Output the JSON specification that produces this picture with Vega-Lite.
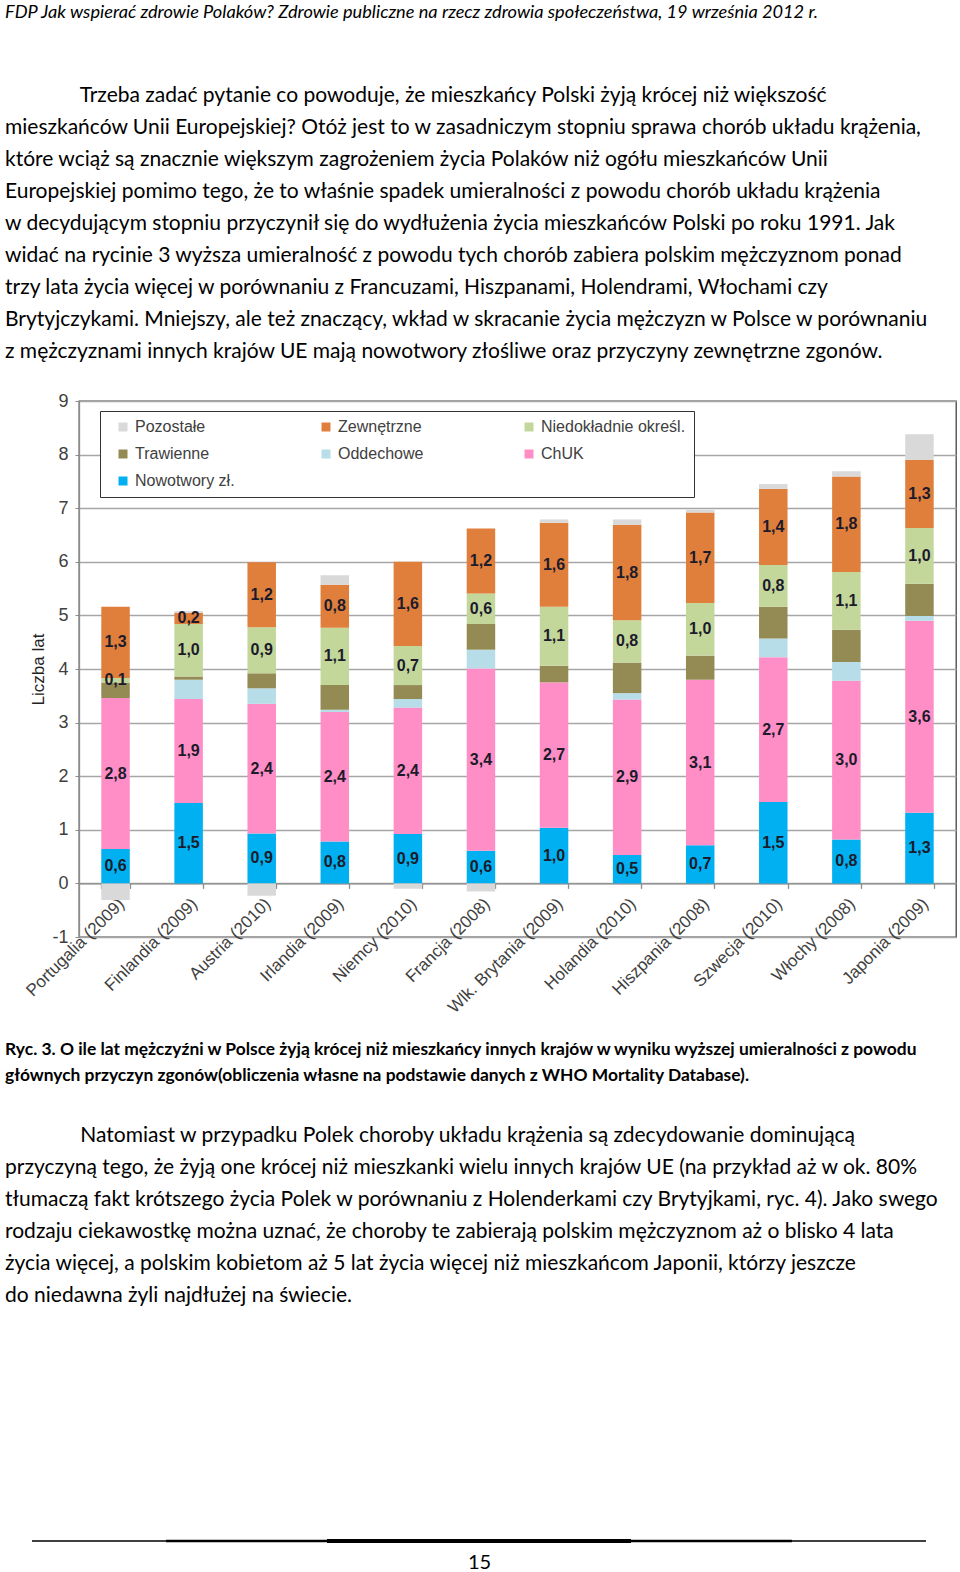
{
  "$schema": "https://vega.github.io/schema/vega-lite/v6.json",
  "background": "white",
  "padding": {"left": 4, "top": 2, "right": 0, "bottom": 0},
  "spacing": 23,
  "config": {
    "locale": {"number": {"decimal": ",", "thousands": " ", "grouping": [3], "currency": ["", " zł"], "minus": "-"}},
    "axis": {"labelFont": "Liberation Sans", "titleFont": "Liberation Sans"},
    "legend": {"labelFont": "Liberation Sans"}
  },
  "vconcat": [
    {
      "width": 877,
      "height": 536,
      "view": {"stroke": "#444", "strokeWidth": 1.3},
      "title": {
        "text": "FDP Jak wspierać zdrowie Polaków? Zdrowie publiczne na rzecz zdrowia społeczeństwa, 19 września 2012 r.",
        "subtitle": [
          "\u200b\u00a0\u00a0\u00a0\u00a0\u00a0\u00a0\u00a0\u00a0\u00a0\u00a0\u00a0\u00a0\u00a0\u00a0Trzeba zadać pytanie co powoduje, że mieszkańcy Polski żyją krócej niż większość",
          "mieszkańców Unii Europejskiej? Otóż jest to w zasadniczym stopniu sprawa chorób układu krążenia,",
          "które wciąż są znacznie większym zagrożeniem życia Polaków niż ogółu mieszkańców Unii",
          "Europejskiej pomimo tego, że to właśnie spadek umieralności z powodu chorób układu krążenia",
          "w decydującym stopniu przyczynił się do wydłużenia życia mieszkańców Polski po roku 1991. Jak",
          "widać na rycinie 3 wyższa umieralność z powodu tych chorób zabiera polskim mężczyznom ponad",
          "trzy lata życia więcej w porównaniu z Francuzami, Hiszpanami, Holendrami, Włochami czy",
          "Brytyjczykami. Mniejszy, ale też znaczący, wkład w skracanie życia mężczyzn w Polsce w porównaniu",
          "z mężczyznami innych krajów UE mają nowotwory złośliwe oraz przyczyny zewnętrzne zgonów."
        ],
        "anchor": "start",
        "frame": "group",
        "dx": -74,
        "offset": 29,
        "font": "Lato",
        "fontSize": 18.2,
        "fontStyle": "italic",
        "fontWeight": "normal",
        "color": "#000",
        "subtitleFont": "Lato",
        "subtitleFontSize": 21,
        "subtitleColor": "#000",
        "subtitleLineHeight": 32,
        "subtitlePadding": 63
      },
      "data": {"values": [
        {"country": "Portugalia (2009)", "cause": "Nowotwory zł.", "value": 0.64},
        {"country": "Portugalia (2009)", "cause": "ChUK", "value": 2.82},
        {"country": "Portugalia (2009)", "cause": "Oddechowe", "value": 0},
        {"country": "Portugalia (2009)", "cause": "Trawienne", "value": 0.29},
        {"country": "Portugalia (2009)", "cause": "Niedokładnie określ.", "value": 0.08},
        {"country": "Portugalia (2009)", "cause": "Zewnętrzne", "value": 1.33},
        {"country": "Portugalia (2009)", "cause": "Pozostałe", "value": -0.31},
        {"country": "Finlandia (2009)", "cause": "Nowotwory zł.", "value": 1.5},
        {"country": "Finlandia (2009)", "cause": "ChUK", "value": 1.94},
        {"country": "Finlandia (2009)", "cause": "Oddechowe", "value": 0.36},
        {"country": "Finlandia (2009)", "cause": "Trawienne", "value": 0.06},
        {"country": "Finlandia (2009)", "cause": "Niedokładnie określ.", "value": 0.98},
        {"country": "Finlandia (2009)", "cause": "Zewnętrzne", "value": 0.21},
        {"country": "Finlandia (2009)", "cause": "Pozostałe", "value": 0.03},
        {"country": "Austria (2010)", "cause": "Nowotwory zł.", "value": 0.93},
        {"country": "Austria (2010)", "cause": "ChUK", "value": 2.42},
        {"country": "Austria (2010)", "cause": "Oddechowe", "value": 0.29},
        {"country": "Austria (2010)", "cause": "Trawienne", "value": 0.28},
        {"country": "Austria (2010)", "cause": "Niedokładnie określ.", "value": 0.86},
        {"country": "Austria (2010)", "cause": "Zewnętrzne", "value": 1.21},
        {"country": "Austria (2010)", "cause": "Pozostałe", "value": -0.23},
        {"country": "Irlandia (2009)", "cause": "Nowotwory zł.", "value": 0.78},
        {"country": "Irlandia (2009)", "cause": "ChUK", "value": 2.42},
        {"country": "Irlandia (2009)", "cause": "Oddechowe", "value": 0.04},
        {"country": "Irlandia (2009)", "cause": "Trawienne", "value": 0.46},
        {"country": "Irlandia (2009)", "cause": "Niedokładnie określ.", "value": 1.07},
        {"country": "Irlandia (2009)", "cause": "Zewnętrzne", "value": 0.8},
        {"country": "Irlandia (2009)", "cause": "Pozostałe", "value": 0.18},
        {"country": "Niemcy (2010)", "cause": "Nowotwory zł.", "value": 0.92},
        {"country": "Niemcy (2010)", "cause": "ChUK", "value": 2.36},
        {"country": "Niemcy (2010)", "cause": "Oddechowe", "value": 0.16},
        {"country": "Niemcy (2010)", "cause": "Trawienne", "value": 0.26},
        {"country": "Niemcy (2010)", "cause": "Niedokładnie określ.", "value": 0.73},
        {"country": "Niemcy (2010)", "cause": "Zewnętrzne", "value": 1.57},
        {"country": "Niemcy (2010)", "cause": "Pozostałe", "value": -0.1},
        {"country": "Francja (2008)", "cause": "Nowotwory zł.", "value": 0.61},
        {"country": "Francja (2008)", "cause": "ChUK", "value": 3.4},
        {"country": "Francja (2008)", "cause": "Oddechowe", "value": 0.35},
        {"country": "Francja (2008)", "cause": "Trawienne", "value": 0.48},
        {"country": "Francja (2008)", "cause": "Niedokładnie określ.", "value": 0.57},
        {"country": "Francja (2008)", "cause": "Zewnętrzne", "value": 1.21},
        {"country": "Francja (2008)", "cause": "Pozostałe", "value": -0.15},
        {"country": "Wlk. Brytania (2009)", "cause": "Nowotwory zł.", "value": 1.04},
        {"country": "Wlk. Brytania (2009)", "cause": "ChUK", "value": 2.71},
        {"country": "Wlk. Brytania (2009)", "cause": "Oddechowe", "value": 0},
        {"country": "Wlk. Brytania (2009)", "cause": "Trawienne", "value": 0.31},
        {"country": "Wlk. Brytania (2009)", "cause": "Niedokładnie określ.", "value": 1.1},
        {"country": "Wlk. Brytania (2009)", "cause": "Zewnętrzne", "value": 1.57},
        {"country": "Wlk. Brytania (2009)", "cause": "Pozostałe", "value": 0.06},
        {"country": "Holandia (2010)", "cause": "Nowotwory zł.", "value": 0.53},
        {"country": "Holandia (2010)", "cause": "ChUK", "value": 2.9},
        {"country": "Holandia (2010)", "cause": "Oddechowe", "value": 0.12},
        {"country": "Holandia (2010)", "cause": "Trawienne", "value": 0.57},
        {"country": "Holandia (2010)", "cause": "Niedokładnie określ.", "value": 0.79},
        {"country": "Holandia (2010)", "cause": "Zewnętrzne", "value": 1.78},
        {"country": "Holandia (2010)", "cause": "Pozostałe", "value": 0.1},
        {"country": "Hiszpania (2008)", "cause": "Nowotwory zł.", "value": 0.71},
        {"country": "Hiszpania (2008)", "cause": "ChUK", "value": 3.09},
        {"country": "Hiszpania (2008)", "cause": "Oddechowe", "value": 0},
        {"country": "Hiszpania (2008)", "cause": "Trawienne", "value": 0.45},
        {"country": "Hiszpania (2008)", "cause": "Niedokładnie określ.", "value": 0.98},
        {"country": "Hiszpania (2008)", "cause": "Zewnętrzne", "value": 1.69},
        {"country": "Hiszpania (2008)", "cause": "Pozostałe", "value": 0.05},
        {"country": "Szwecja (2010)", "cause": "Nowotwory zł.", "value": 1.52},
        {"country": "Szwecja (2010)", "cause": "ChUK", "value": 2.7},
        {"country": "Szwecja (2010)", "cause": "Oddechowe", "value": 0.35},
        {"country": "Szwecja (2010)", "cause": "Trawienne", "value": 0.59},
        {"country": "Szwecja (2010)", "cause": "Niedokładnie określ.", "value": 0.78},
        {"country": "Szwecja (2010)", "cause": "Zewnętrzne", "value": 1.42},
        {"country": "Szwecja (2010)", "cause": "Pozostałe", "value": 0.09},
        {"country": "Włochy (2008)", "cause": "Nowotwory zł.", "value": 0.82},
        {"country": "Włochy (2008)", "cause": "ChUK", "value": 2.96},
        {"country": "Włochy (2008)", "cause": "Oddechowe", "value": 0.35},
        {"country": "Włochy (2008)", "cause": "Trawienne", "value": 0.6},
        {"country": "Włochy (2008)", "cause": "Niedokładnie określ.", "value": 1.08},
        {"country": "Włochy (2008)", "cause": "Zewnętrzne", "value": 1.78},
        {"country": "Włochy (2008)", "cause": "Pozostałe", "value": 0.1},
        {"country": "Japonia (2009)", "cause": "Nowotwory zł.", "value": 1.32},
        {"country": "Japonia (2009)", "cause": "ChUK", "value": 3.58},
        {"country": "Japonia (2009)", "cause": "Oddechowe", "value": 0.09},
        {"country": "Japonia (2009)", "cause": "Trawienne", "value": 0.6},
        {"country": "Japonia (2009)", "cause": "Niedokładnie określ.", "value": 1.04},
        {"country": "Japonia (2009)", "cause": "Zewnętrzne", "value": 1.27},
        {"country": "Japonia (2009)", "cause": "Pozostałe", "value": 0.48}
      ]},
      "transform": [
        {"calculate": "indexof(['Nowotwory zł.','ChUK','Oddechowe','Trawienne','Niedokładnie określ.','Zewnętrzne','Pozostałe'], datum.cause)", "as": "ord"},
        {"stack": "value", "groupby": ["country"], "sort": [{"field": "ord", "order": "ascending"}], "as": ["v0", "v1"], "offset": "zero"},
        {"calculate": "(datum.v0 + datum.v1) / 2", "as": "mid"}
      ],
      "encoding": {
        "x": {
          "field": "country", "type": "nominal",
          "sort": ["Portugalia (2009)","Finlandia (2009)","Austria (2010)","Irlandia (2009)","Niemcy (2010)","Francja (2008)","Wlk. Brytania (2009)","Holandia (2010)","Hiszpania (2008)","Szwecja (2010)","Włochy (2008)","Japonia (2009)"],
          "scale": {"paddingInner": 0.61, "paddingOuter": 0.305},
          "axis": {
            "title": null, "orient": "bottom", "offset": -53.6,
            "labelAngle": -45, "labelFontSize": 17, "labelColor": "#404040",
            "labelPadding": 7, "labelLimit": 300,
            "domainColor": "#8c8c8c", "domainWidth": 1.3,
            "tickBand": "extent", "tickColor": "#8c8c8c", "tickSize": 5, "tickWidth": 1.3
          }
        }
      },
      "layer": [
        {
          "mark": {"type": "bar"},
          "encoding": {
            "y": {
              "field": "v1", "type": "quantitative",
              "scale": {"domain": [-1, 9], "nice": false, "zero": false},
              "axis": {
                "title": "Liczba lat", "titleFontSize": 17, "titleFontWeight": "normal", "titleColor": "#222",
                "values": [-1, 0, 1, 2, 3, 4, 5, 6, 7, 8, 9], "format": "d",
                "labelFontSize": 18, "labelColor": "#404040", "labelPadding": 7,
                "domainColor": "#8c8c8c", "domainWidth": 1.3,
                "tickColor": "#8c8c8c", "tickSize": 4,
                "gridColor": "#a6a6a6", "gridWidth": 1.3
              }
            },
            "y2": {"field": "v0"},
            "color": {
              "field": "cause", "type": "nominal",
              "scale": {
                "domain": ["Pozostałe", "Zewnętrzne", "Niedokładnie określ.", "Trawienne", "Oddechowe", "ChUK", "Nowotwory zł."],
                "range": ["#d9d9d9", "#e07f3c", "#c4d79b", "#948a54", "#b7dde8", "#ff8ec6", "#00b0f0"]
              },
              "legend": {
                "title": null, "orient": "none", "legendX": 21, "legendY": 10,
                "direction": "horizontal",
                "columns": 3, "gridAlign": "all", "columnPadding": 31, "rowPadding": 11,
                "padding": 8, "symbolOffset": 7,
                "fillColor": "white", "strokeColor": "#333",
                "symbolType": "square", "symbolSize": 81, "symbolStrokeWidth": 0,
                "labelFontSize": 16, "labelColor": "#404040", "labelLimit": 300, "labelOffset": 4
              }
            }
          }
        },
        {
          "transform": [{"filter": "indexof([0, 1, 4, 5], datum.ord) >= 0"}],
          "mark": {"type": "text", "font": "Liberation Sans", "fontSize": 16, "fontWeight": "bold", "color": "#1b1b2b", "baseline": "middle"},
          "encoding": {
            "y": {"field": "mid", "type": "quantitative", "title": "Liczba lat"},
            "text": {"field": "value", "type": "quantitative", "format": ".1f"}
          }
        }
      ]
    },
    {
      "width": 847,
      "height": 225,
      "view": {"stroke": null},
      "title": {
        "text": [
          "Ryc. 3. O ile lat mężczyźni w Polsce żyją krócej niż mieszkańcy innych krajów w wyniku wyższej umieralności z powodu",
          "głównych przyczyn zgonów(obliczenia własne na podstawie danych z WHO Mortality Database)."
        ],
        "subtitle": [
          "\u200b\u00a0\u00a0\u00a0\u00a0\u00a0\u00a0\u00a0\u00a0\u00a0\u00a0\u00a0\u00a0\u00a0\u00a0Natomiast w przypadku Polek choroby układu krążenia są zdecydowanie dominującą",
          "przyczyną tego, że żyją one krócej niż mieszkanki wielu innych krajów UE (na przykład aż w ok. 80%",
          "tłumaczą fakt krótszego życia Polek w porównaniu z Holenderkami czy Brytyjkami, ryc. 4). Jako swego",
          "rodzaju ciekawostkę można uznać, że choroby te zabierają polskim mężczyznom aż o blisko 4 lata",
          "życia więcej, a polskim kobietom aż 5 lat życia więcej niż mieszkańcom Japonii, którzy jeszcze",
          "do niedawna żyli najdłużej na świecie."
        ],
        "anchor": "start",
        "frame": "group",
        "dx": -74,
        "offset": 10,
        "font": "Lato",
        "fontSize": 17.4,
        "fontWeight": "bold",
        "lineHeight": 26,
        "color": "#000",
        "subtitleFont": "Lato",
        "subtitleFontSize": 21,
        "subtitleColor": "#000",
        "subtitleLineHeight": 32,
        "subtitlePadding": 41
      },
      "data": {"values": [{}]},
      "encoding": {
        "y": {"datum": 0, "type": "quantitative", "scale": {"domain": [0, 1]}, "axis": null}
      },
      "layer": [
        {
          "mark": {"type": "rule", "color": "#000", "strokeWidth": 1.5},
          "encoding": {
            "x": {"datum": 0, "type": "quantitative", "scale": {"domain": [0, 1], "range": [-47, 847]},
              "axis": {"title": "15", "domain": false, "ticks": false, "labels": false, "grid": false,
                "titleFont": "Lato", "titleFontSize": 20, "titleFontWeight": "normal", "titleColor": "#000", "titlePadding": 11}},
            "x2": {"datum": 1}
          }
        },
        {
          "mark": {"type": "rule", "color": "#000", "strokeWidth": 2.6},
          "encoding": {
            "x": {"datum": 0.15, "type": "quantitative", "title": "15"},
            "x2": {"datum": 0.85}
          }
        },
        {
          "mark": {"type": "rule", "color": "#000", "strokeWidth": 4},
          "encoding": {
            "x": {"datum": 0.33, "type": "quantitative", "title": "15"},
            "x2": {"datum": 0.67}
          }
        }
      ]
    }
  ]
}
